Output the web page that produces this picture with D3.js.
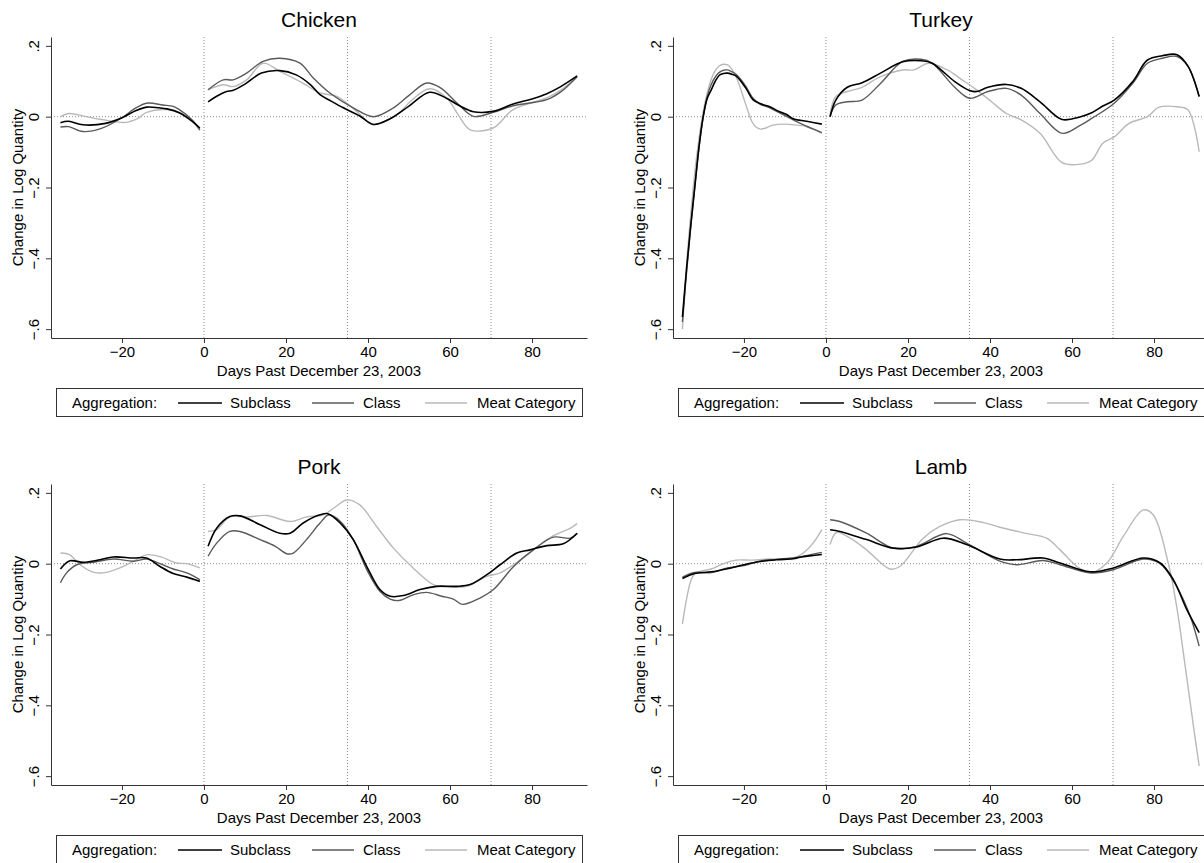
<!DOCTYPE html>
<html>
<head>
<meta charset="utf-8">
<script src="https://cdn.jsdelivr.net/npm/d3@7"></script>
<style>
body { margin: 0; background: #fff; }
text { font-family: "Liberation Sans", Arial, Helvetica, sans-serif; fill: #000; }
</style>
</head>
<body>
<div id="root"></div>
<script>
var width = 1204;
var height = 863;

// panel titles and legend
var titles = ["Chicken", "Turkey", "Pork", "Lamb"];
var seriesNames = ["Subclass", "Class", "Meat Category"];
var xTicks = [-20, 0, 20, 40, 60, 80];
var yTicks = [0.2, 0, -0.2, -0.4, -0.6];
var eventDays = [0, 35, 70];

// [day, change in log quantity]
var chickenSubPre = [[-35,-0.017],[-33,-0.013],[-29.5,-0.023],[-24,-0.019],[-20,-0.003],[-17,0.015],[-14,0.027],[-11,0.025],[-9,0.022],[-6,0.011],[-3,-0.012],[-1,-0.032]];
var chickenClassPre = [[-35,-0.029],[-33,-0.028],[-29.5,-0.042],[-25,-0.033],[-20,-0.003],[-17,0.022],[-14,0.038],[-10,0.033],[-7.5,0.029],[-6,0.02],[-3,-0.008],[-1,-0.037]];
var chickenMeatPre = [[-35,0],[-33,0.009],[-29,0.001],[-25,-0.008],[-19,-0.016],[-16,-0.004],[-14,0.012],[-9,0.02],[-6,0.01],[-3,-0.012],[-1,-0.039]];
var chickenSubPost = [[1,0.042],[3,0.057],[5.5,0.071],[7,0.074],[10,0.092],[14,0.123],[18.5,0.13],[22.5,0.118],[26,0.09],[28.3,0.062],[31,0.044],[34,0.025],[38,0.002],[41.3,-0.022],[45.4,-0.006],[50,0.03],[55,0.069],[59,0.053],[62,0.033],[65.7,0.014],[70.5,0.015],[75.4,0.036],[80,0.05],[83.6,0.065],[87,0.085],[91,0.115]];
var chickenClassPost = [[1,0.076],[4.7,0.104],[7.1,0.104],[10.4,0.123],[14.4,0.156],[18.5,0.165],[23.4,0.151],[26.6,0.11],[30.7,0.067],[36.4,0.025],[41.3,0],[46.2,0.025],[50,0.06],[54.3,0.095],[57.6,0.082],[62,0.035],[65.7,0.001],[70.5,0.012],[75.4,0.031],[83.6,0.048],[87,0.07],[91,0.113]];
var chickenMeatPost = [[1,0.076],[4.7,0.09],[7.1,0.085],[10.4,0.104],[14.4,0.151],[18.5,0.128],[24.1,0.095],[28.3,0.067],[32.4,0.057],[37.2,0.015],[41.3,-0.022],[47,0.006],[51,0.05],[55,0.079],[59.2,0.053],[62,0.005],[64.9,-0.037],[70.5,-0.032],[75.4,0.02],[83.6,0.053],[87,0.075],[91,0.113]];

var turkeySubPre = [[-35,-0.566],[-34,-0.43],[-33,-0.31],[-32,-0.2],[-31,-0.09],[-30,-0.005],[-29,0.05],[-28,0.075],[-27,0.1],[-26,0.117],[-25,0.122],[-24,0.123],[-23,0.12],[-21.8,0.114],[-19.5,0.08],[-17.8,0.048],[-16.1,0.037],[-13.7,0.028],[-11.5,0.015],[-9.6,0.006],[-8,-0.006],[-4.7,-0.013],[-1,-0.021]];
var turkeyClassPre = [[-35,-0.58],[-34,-0.44],[-33,-0.315],[-32,-0.2],[-31,-0.09],[-30,-0.005],[-29,0.055],[-28,0.09],[-27,0.112],[-26,0.125],[-25,0.131],[-24,0.132],[-23,0.127],[-21.8,0.118],[-19.5,0.085],[-17.8,0.052],[-16,0.035],[-13.7,0.025],[-11.5,0.012],[-9.6,0.001],[-7,-0.015],[-4.7,-0.027],[-2,-0.04],[-1,-0.045]];
var turkeyMeatPre = [[-35,-0.6],[-34,-0.42],[-33,-0.28],[-32,-0.16],[-31,-0.065],[-30,0.01],[-29,0.065],[-28,0.105],[-27,0.13],[-26,0.143],[-25,0.148],[-24,0.146],[-23,0.135],[-22,0.115],[-21,0.085],[-20,0.05],[-19,0.015],[-18,-0.015],[-17,-0.03],[-16,-0.035],[-15,-0.033],[-13,-0.024],[-10,-0.021],[-7,-0.024],[-5,-0.027],[-3,-0.036],[-1,-0.047]];
var turkeySubPost = [[1,0],[2.4,0.047],[5.2,0.083],[8.8,0.096],[13.3,0.123],[18.7,0.155],[23.2,0.158],[25.9,0.151],[31.4,0.099],[35,0.074],[36.8,0.071],[39.5,0.083],[44,0.091],[47.6,0.08],[52.2,0.042],[57.6,-0.008],[62.1,0],[64.8,0.011],[67.5,0.03],[70.3,0.047],[74.8,0.099],[78.4,0.16],[82,0.172],[85.6,0.175],[88.3,0.142],[91,0.057]];
var turkeyClassPost = [[1,0],[2.4,0.033],[5.2,0.042],[8.8,0.047],[13.3,0.094],[18.7,0.156],[23.2,0.162],[25.9,0.151],[31.4,0.083],[35,0.052],[39.5,0.071],[44,0.08],[47.6,0.061],[52.2,0.009],[57.6,-0.047],[62.1,-0.024],[64.8,-0.005],[70.3,0.038],[74.8,0.094],[78.4,0.151],[82,0.165],[85.6,0.17],[88.3,0.142],[91,0.057]];
var turkeyMeatPost = [[1,0.005],[2.4,0.057],[5.2,0.071],[8.8,0.083],[13.3,0.113],[18.7,0.132],[21.4,0.132],[25,0.151],[29.6,0.132],[33.2,0.104],[36.8,0.075],[40.4,0.042],[44,0.009],[47.6,-0.009],[52.2,-0.047],[57.6,-0.13],[62.1,-0.134],[64.8,-0.123],[67.5,-0.075],[70.3,-0.057],[73.9,-0.019],[78.4,0],[81.1,0.026],[85.6,0.028],[88.3,0.019],[91,-0.099]];

var porkSubPre = [[-35,-0.015],[-32.7,0.008],[-29.4,0.004],[-25.4,0.011],[-22.1,0.019],[-17.2,0.016],[-14,0.016],[-10.7,-0.008],[-7.5,-0.028],[-4.2,-0.038],[-1,-0.05]];
var porkClassPre = [[-35,-0.054],[-33.5,-0.026],[-31,-0.003],[-27,0.004],[-22.1,0.013],[-17.2,0.007],[-14,0.013],[-10.7,0],[-7.5,-0.015],[-4.2,-0.026],[-1,-0.045]];
var porkMeatPre = [[-35,0.03],[-32.7,0.025],[-30.2,-0.003],[-27,-0.024],[-24.6,-0.026],[-20.5,-0.012],[-17.2,0.007],[-14,0.025],[-10.7,0.02],[-6.7,0.002],[-4.2,0],[-1,-0.012]];
var porkSubPost = [[1,0.049],[3.1,0.1],[6.3,0.133],[8.8,0.135],[13.7,0.11],[18.5,0.086],[21,0.086],[24.2,0.115],[28.3,0.138],[30.2,0.141],[33.2,0.115],[36.4,0.068],[39.7,-0.008],[42.9,-0.073],[45.4,-0.092],[48.6,-0.09],[52.7,-0.073],[56.7,-0.064],[61.6,-0.064],[64.9,-0.059],[69,-0.031],[72.2,-0.003],[76.3,0.03],[79.5,0.039],[83.6,0.051],[87.6,0.056],[91,0.086]];
var porkClassPost = [[1,0.021],[3.1,0.058],[6.3,0.091],[8.8,0.091],[13.7,0.068],[17.4,0.049],[20.2,0.028],[21.8,0.03],[25,0.068],[28.3,0.115],[30.5,0.138],[33.2,0.12],[36.4,0.068],[39.7,-0.017],[42.9,-0.078],[45.4,-0.1],[47.5,-0.104],[51,-0.088],[54.3,-0.081],[58,-0.092],[60.8,-0.1],[63,-0.115],[67.3,-0.097],[70.6,-0.073],[75.5,-0.008],[80.3,0.039],[85.2,0.075],[89.3,0.072],[91,0.086]];
var porkMeatPost = [[1,0.091],[3.1,0.096],[6.3,0.132],[10.4,0.132],[15.3,0.136],[21,0.119],[25,0.132],[29.1,0.138],[32,0.16],[34.8,0.18],[38,0.166],[42.1,0.105],[46.2,0.044],[51,-0.012],[55.9,-0.059],[59.2,-0.066],[64.1,-0.064],[69,-0.036],[72.2,-0.026],[75.5,-0.003],[80.3,0.039],[85.2,0.079],[89.3,0.1],[91,0.113]];

var lambSubPre = [[-35,-0.042],[-32,-0.028],[-28,-0.023],[-24,-0.014],[-20,-0.003],[-16,0.006],[-12,0.011],[-8,0.014],[-6,0.019],[-4,0.022],[-1,0.026]];
var lambClassPre = [[-35,-0.038],[-32,-0.025],[-28,-0.025],[-24,-0.012],[-20,-0.005],[-16,0.008],[-12,0.012],[-8,0.016],[-4,0.025],[-1,0.032]];
var lambMeatPre = [[-35,-0.17],[-34,-0.1],[-33,-0.05],[-32,-0.028],[-30,-0.02],[-28,-0.015],[-25,0],[-22,0.01],[-18,0.01],[-14,0.013],[-10,0.015],[-7,0.02],[-5,0.035],[-3,0.06],[-1,0.096]];
var lambSubPost = [[1,0.096],[3.4,0.091],[9.9,0.068],[16.4,0.044],[22.1,0.047],[28.6,0.072],[34.3,0.054],[42.4,0.013],[46.5,0.011],[53,0.016],[57.1,0.002],[64.4,-0.023],[70.1,-0.012],[77.4,0.016],[81.5,0.002],[84.7,-0.045],[88,-0.13],[91,-0.195]];
var lambClassPost = [[1,0.124],[3.4,0.119],[9.9,0.086],[16.4,0.044],[22.1,0.049],[29.4,0.085],[34.3,0.058],[42.4,0.007],[46.5,-0.003],[53,0.009],[57.1,-0.003],[64.4,-0.026],[70.1,-0.017],[77.4,0.013],[81.5,0],[85.5,-0.064],[88.8,-0.148],[91,-0.233]];
var lambMeatPost = [[1,0.054],[2.6,0.088],[5.9,0.072],[9.9,0.039],[15.6,-0.015],[18,-0.008],[23.7,0.072],[27.8,0.105],[32.7,0.124],[38.4,0.116],[42.4,0.103],[49,0.085],[53.8,0.072],[57.1,0.039],[61.2,-0.008],[64.4,-0.026],[68.5,0.002],[72.5,0.077],[77.4,0.152],[79.8,0.138],[83.5,0],[85.5,-0.12],[87.6,-0.29],[89.6,-0.458],[91,-0.571]];

// each panel: [pre, post] per series, order Subclass, Class, Meat Category
var panels = [
	[[chickenSubPre, chickenSubPost], [chickenClassPre, chickenClassPost], [chickenMeatPre, chickenMeatPost]],
	[[turkeySubPre, turkeySubPost], [turkeyClassPre, turkeyClassPost], [turkeyMeatPre, turkeyMeatPost]],
	[[porkSubPre, porkSubPost], [porkClassPre, porkClassPost], [porkMeatPre, porkMeatPost]],
	[[lambSubPre, lambSubPost], [lambClassPre, lambClassPost], [lambMeatPre, lambMeatPost]]
];

var lineColors = ["#000000", "#5a5a5a", "#b9b9b9"];
var lineWidths = [1.6, 1.4, 1.4];
var offsets = [[0, 0], [622, 0], [0, 447], [622, 447]];

var svg = d3.select("#root")
	.append("svg")
	.attr("width", width)
	.attr("height", height)
	.style("background-color", "#fff");

var x = d3.scaleLinear().domain([-37.3, 93.4]).range([51, 587]);
var y = d3.scaleLinear().domain([-0.625, 0.225]).range([338, 37]);

function fmt(v) {
	if (v === 0) return "0";
	var s = String(Math.round(v * 10) / 10).replace("0.", ".");
	return s.replace("-", "\u2212");
}

var line = d3.line()
	.x(function(d) { return x(d[0]); })
	.y(function(d) { return y(d[1]); })
	.curve(d3.curveCatmullRom.alpha(0.5));

panels.forEach(function(panel, i) {
	var g = svg.append("g")
		.attr("transform", "translate(" + offsets[i][0] + "," + offsets[i][1] + ")");

	// title
	g.append("text")
		.attr("x", 319)
		.attr("y", 27)
		.attr("text-anchor", "middle")
		.style("font-size", "21px")
		.text(titles[i]);

	// reference lines
	g.selectAll(".vline")
		.data(eventDays)
		.enter()
		.append("line")
		.attr("x1", function(d) { return x(d); })
		.attr("x2", function(d) { return x(d); })
		.attr("y1", 37)
		.attr("y2", 338)
		.attr("stroke", "#8c8c8c")
		.attr("stroke-width", 1)
		.attr("stroke-dasharray", "1,2");

	g.append("line")
		.attr("x1", 51)
		.attr("x2", 587)
		.attr("y1", y(0))
		.attr("y2", y(0))
		.attr("stroke", "#8c8c8c")
		.attr("stroke-width", 1)
		.attr("stroke-dasharray", "1,2");

	// series, drawn light to dark so black ends on top
	for (var s = 2; s >= 0; s--) {
		panel[s].forEach(function(seg) {
			g.append("path")
				.datum(seg)
				.attr("fill", "none")
				.attr("stroke", lineColors[s])
				.attr("stroke-width", lineWidths[s])
				.attr("stroke-linejoin", "round")
				.attr("d", line);
		});
	}

	// x axis
	var xAxis = g.append("g")
		.attr("transform", "translate(0,338)")
		.call(d3.axisBottom(x).tickValues(xTicks).tickSize(5).tickSizeOuter(0).tickFormat(fmt));
	xAxis.selectAll("text").style("font-size", "15px").attr("y", 8).attr("dy", "0.71em");

	// y axis
	var yAxis = g.append("g")
		.attr("transform", "translate(51,0)")
		.call(d3.axisLeft(y).tickValues(yTicks).tickSize(5).tickSizeOuter(0).tickFormat(fmt));
	yAxis.selectAll("text")
		.style("font-size", "15px")
		.attr("transform", "rotate(-90)")
		.attr("x", 0)
		.attr("y", -12.5)
		.attr("dy", 0)
		.style("text-anchor", "middle");

	g.selectAll(".domain, .tick line").attr("stroke", "#333");
	g.selectAll(".tick text").attr("font-family", null);

	// axis titles
	g.append("text")
		.attr("x", 319)
		.attr("y", 376)
		.attr("text-anchor", "middle")
		.style("font-size", "15px")
		.text("Days Past December 23, 2003");

	g.append("text")
		.attr("transform", "translate(22.5,187.5) rotate(-90)")
		.attr("text-anchor", "middle")
		.style("font-size", "15px")
		.text("Change in Log Quantity");

	// legend
	var lg = g.append("g");
	lg.append("rect")
		.attr("x", 56.5)
		.attr("y", 388.5)
		.attr("width", 526)
		.attr("height", 28)
		.attr("fill", "#fff")
		.attr("stroke", "#333")
		.attr("stroke-width", 1);
	lg.append("text")
		.attr("x", 72)
		.attr("y", 408)
		.style("font-size", "15px")
		.text("Aggregation:");
	var legX = [[178, 222, 230], [312, 354, 363], [425, 467, 477]];
	seriesNames.forEach(function(name, k) {
		lg.append("line")
			.attr("x1", legX[k][0])
			.attr("x2", legX[k][1])
			.attr("y1", 403)
			.attr("y2", 403)
			.attr("stroke", lineColors[k])
			.attr("stroke-width", lineWidths[k]);
		lg.append("text")
			.attr("x", legX[k][2])
			.attr("y", 408)
			.style("font-size", "15px")
			.text(name);
	});
});
</script>
</body>
</html>
